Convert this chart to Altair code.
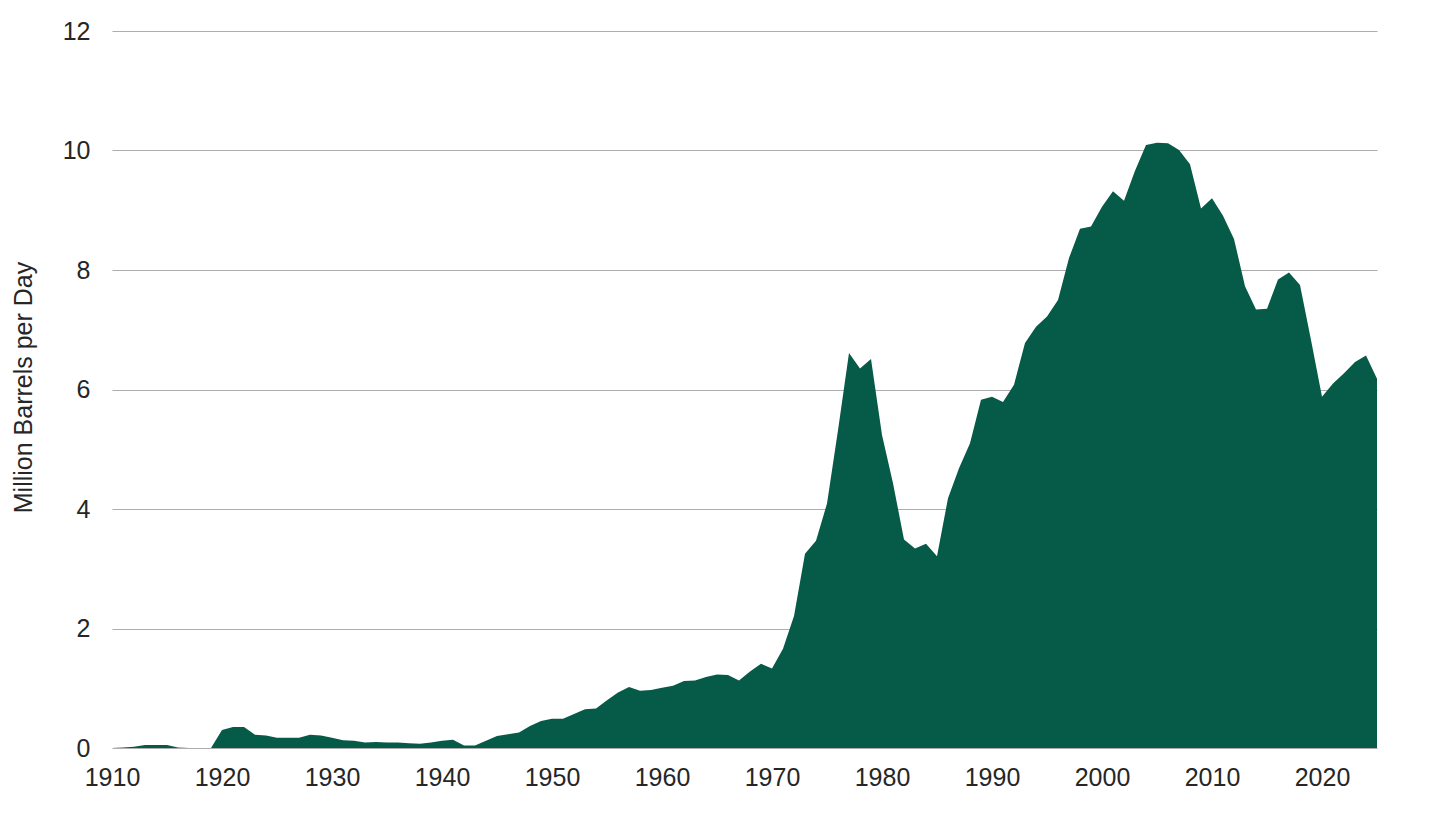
""" Annual production area chart, million barrels per day, 1910-2025 """

import altair as alt
import pandas as pd

AREA_COLOR = "#065A48"
GRID_COLOR = "#ADADAD"
TEXT_COLOR = "#262626"
FONT = "Liberation Sans"
FONT_SIZE = 25

YEARS = list(range(1910, 2026))

# one row per decade
VALUES_1910S = [0.00, 0.01, 0.02, 0.05, 0.05, 0.05, 0.01, 0.00, 0.00, 0.00]
VALUES_1920S = [0.30, 0.35, 0.35, 0.22, 0.21, 0.17, 0.17, 0.17, 0.22, 0.21]
VALUES_1930S = [0.17, 0.13, 0.12, 0.09, 0.10, 0.09, 0.09, 0.08, 0.07, 0.09]
VALUES_1940S = [0.12, 0.14, 0.04, 0.04, 0.12, 0.20, 0.23, 0.26, 0.37, 0.45]
VALUES_1950S = [0.49, 0.49, 0.57, 0.65, 0.66, 0.80, 0.93, 1.02, 0.96, 0.97]
VALUES_1960S = [1.01, 1.04, 1.12, 1.13, 1.19, 1.23, 1.22, 1.13, 1.28, 1.41]
VALUES_1970S = [1.33, 1.66, 2.21, 3.25, 3.47, 4.09, 5.32, 6.61, 6.35, 6.51]
VALUES_1980S = [5.24, 4.43, 3.49, 3.34, 3.42, 3.21, 4.18, 4.68, 5.10, 5.83]
VALUES_1990S = [5.88, 5.79, 6.08, 6.78, 7.05, 7.22, 7.50, 8.20, 8.69, 8.73]
VALUES_2000S = [9.06, 9.32, 9.16, 9.66, 10.09, 10.13, 10.12, 10.01, 9.77, 9.03]
VALUES_2010S = [9.20, 8.91, 8.52, 7.73, 7.34, 7.35, 7.84, 7.96, 7.75, 6.83]
VALUES_2020S = [5.88, 6.10, 6.27, 6.46, 6.57, 6.18]

VALUES = (
    VALUES_1910S + VALUES_1920S + VALUES_1930S + VALUES_1940S
    + VALUES_1950S + VALUES_1960S + VALUES_1970S + VALUES_1980S
    + VALUES_1990S + VALUES_2000S + VALUES_2010S + VALUES_2020S
)

X_TICKS = list(range(1910, 2021, 10))
Y_TICKS = [0, 2, 4, 6, 8, 10, 12]

data = pd.DataFrame({"year": YEARS, "value": VALUES})

chart = (
    alt.Chart(data)
    .mark_area(color=AREA_COLOR, interpolate="linear")
    .encode(
        x=alt.X(
            "year:Q",
            scale=alt.Scale(domain=[1910, 2025], nice=False, zero=False),
            axis=alt.Axis(
                values=X_TICKS,
                format="d",
                grid=False,
                domain=False,
                ticks=False,
                labelPadding=17,
                labelFontSize=FONT_SIZE,
                labelColor=TEXT_COLOR,
                labelFont=FONT,
                labelFlush=False,
                labelOverlap=False,
            ),
        ).title(None),
        y=alt.Y(
            "value:Q",
            scale=alt.Scale(domain=[0, 12], nice=False),
            axis=alt.Axis(
                values=Y_TICKS,
                grid=True,
                gridColor=GRID_COLOR,
                gridWidth=1,
                domain=False,
                ticks=False,
                labelPadding=22,
                labelFontSize=FONT_SIZE,
                labelColor=TEXT_COLOR,
                labelFont=FONT,
                titleFontSize=FONT_SIZE,
                titleFontWeight="normal",
                titleColor=TEXT_COLOR,
                titleFont=FONT,
                titleAngle=-90,
                titleAlign="center",
                titleBaseline="middle",
                titleX=-89,
                titleY=356,
            ),
        ).title("Million Barrels per Day"),
    )
    .properties(
        width=1265,
        height=717,
        autosize=alt.AutoSizeParams(type="none"),
        padding={"left": 104, "top": 23, "right": 40, "bottom": 50},
        background="white",
    )
    .configure_view(stroke=None)
)

chart.save("out.html", embed_options={"renderer": "svg", "actions": False})
